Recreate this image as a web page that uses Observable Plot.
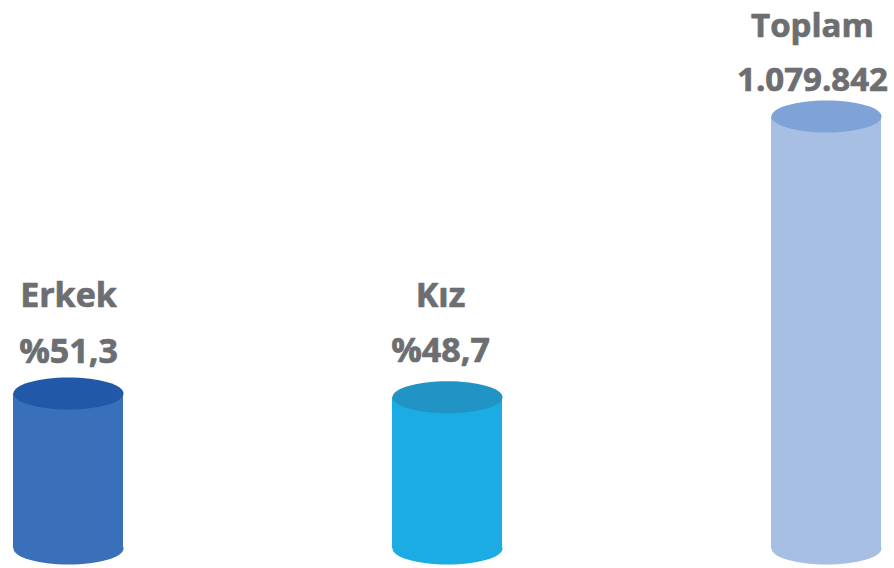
<!DOCTYPE html>
<html>
<head>
<meta charset="utf-8">
<script src="https://cdn.jsdelivr.net/npm/d3@7"></script>
<script src="https://cdn.jsdelivr.net/npm/@observablehq/plot@0.6"></script>
<style>
  html, body { margin: 0; padding: 0; background: #ffffff; }
  #chart svg { display: block; }
</style>
</head>
<body>
<div id="chart"></div>
<script>
// Categories and labels
const categories = ["Erkek", "Kız", "Toplam"];
const valueLabels = ["%51,3", "%48,7", "1.079.842"];
// Relative visual cylinder heights as drawn (Toplam = 100)
const heights = [35.9, 35.0, 100];
const bodyColors = ["#3a70b9", "#1aace3", "#a7bfe3"];
const topColors = ["#2159a8", "#2193c4", "#7fa3d6"];

const data = categories.map((c, i) => ({
  cat: c, label: valueLabels[i], h: heights[i], body: bodyColors[i], top: topColors[i]
}));

const W = 894, H = 568;
const RX = 55, RY = 16;
const K = 0.5523;
const ellipse = {
  draw(ctx) {
    ctx.moveTo(RX, 0);
    ctx.bezierCurveTo(RX, RY * K, RX * K, RY, 0, RY);
    ctx.bezierCurveTo(-RX * K, RY, -RX, RY * K, -RX, 0);
    ctx.bezierCurveTo(-RX, -RY * K, -RX * K, -RY, 0, -RY);
    ctx.bezierCurveTo(RX * K, -RY, RX, -RY * K, RX, 0);
    ctx.closePath();
  }
};

const textStyle = {
  fontSize: 34, fontWeight: "bold", fill: "#6d6e71", stroke: "#6d6e71", strokeWidth: 0.7,
  lineAnchor: "bottom", fontFamily: "Open Sans"
};
const textStyleT = { ...textStyle, fontSize: 33 };

const plot = Plot.plot({
  width: W,
  height: H,
  marginTop: 116,
  marginBottom: 20,
  marginLeft: 12,
  marginRight: 12,
  x: { domain: categories, paddingInner: 0.7105, paddingOuter: 0, axis: null },
  y: { domain: [0, 100], axis: null },
  style: { background: "#ffffff", fontFamily: "Open Sans" },
  marks: [
    Plot.dot(data, { x: "cat", y: 0, symbol: ellipse, r: 10, fill: d => d.body, stroke: null }),
    Plot.barY(data, { x: "cat", y1: 0, y2: "h", fill: d => d.body }),
    Plot.dot(data, { x: "cat", y: "h", symbol: ellipse, r: 10, fill: d => d.top, stroke: null }),
    Plot.text(data.slice(0, 1), { x: "cat", y: "h", text: "label", dy: -30, ...textStyle }),
    Plot.text(data.slice(0, 1), { x: "cat", y: "h", text: "cat", dy: -86, ...textStyle }),
    Plot.text(data.slice(1, 2), { x: "cat", y: "h", text: "label", dy: -35, dx: -7, ...textStyle }),
    Plot.text(data.slice(1, 2), { x: "cat", y: "h", text: "cat", dy: -90, dx: -7, ...textStyle }),
    Plot.text(data.slice(2), { x: "cat", y: "h", text: "label", dy: -26, dx: -14, ...textStyleT }),
    Plot.text(data.slice(2), { x: "cat", y: "h", text: "cat", dy: -80, dx: -14, ...textStyleT })
  ]
});
document.getElementById("chart").appendChild(plot);
</script>
</body>
</html>
